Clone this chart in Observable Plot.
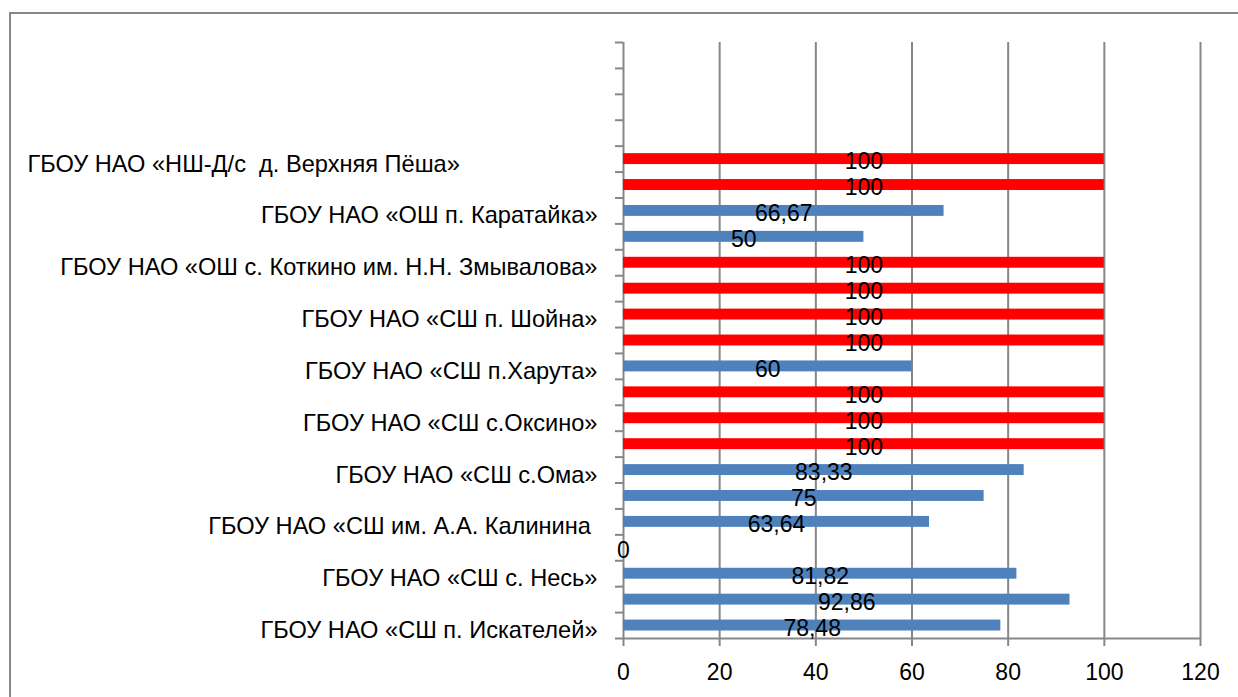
<!DOCTYPE html>
<html>
<head>
<meta charset="utf-8">
<script src="https://cdn.jsdelivr.net/npm/d3@7"></script>
<script src="https://cdn.jsdelivr.net/npm/@observablehq/plot@0.6"></script>
<style>
  html, body { margin: 0; padding: 0; background: #fff; }
  #wrap { position: relative; width: 1238px; height: 697px; overflow: hidden; background: #fff; }
  #frame { position: absolute; left: 9px; top: 12px; width: 1300px; height: 800px; border: 2px solid #878787; box-sizing: border-box; }
  #chart { position: absolute; left: 0; top: 0; }
  #chart svg text { white-space: pre; }
</style>
</head>
<body>
<div id="wrap">
  <div id="frame"></div>
  <div id="chart"></div>
</div>
<script>
// Category labels (shown on every other row, bottom to top)
const schools = [
  "ГБОУ НАО «СШ п. Искателей»",
  "ГБОУ НАО «СШ с. Несь»",
  "ГБОУ НАО «СШ им. А.А. Калинина ",
  "ГБОУ НАО «СШ с.Ома»",
  "ГБОУ НАО «СШ с.Оксино»",
  "ГБОУ НАО «СШ п.Харута»",
  "ГБОУ НАО «СШ п. Шойна»",
  "ГБОУ НАО «ОШ с. Коткино им. Н.Н. Змывалова»",
  "ГБОУ НАО «ОШ п. Каратайка»",
  "ГБОУ НАО «НШ-Д/с  д. Верхняя Пёша»                     ",
  "",
  ""
];
// Bar values, bottom row first (23 category rows, last 4 empty)
const values = [78.48, 92.86, 81.82, 0, 63.64, 75, 83.33, 100, 100, 100, 60, 100, 100, 100, 100, 50, 66.67, 100, 100, null, null, null, null];
const xTicks = [0, 20, 40, 60, 80, 100, 120];

const rowCount = values.length;
const bars = values.map((v, i) => ({row: i, value: v})).filter(d => d.value != null);
const labels = schools.map((s, k) => ({row: 2 * k, text: s}));
const fmt = v => String(v).replace(".", ",");
const gray = "#878787";
const font = "'Liberation Sans', Arial, sans-serif";

const chart = Plot.plot({
  width: 1238,
  height: 697,
  marginLeft: 623,
  marginRight: 38,
  marginTop: 42,
  marginBottom: 59,
  style: {fontFamily: font, fontSize: "23px", color: "#000", background: "transparent"},
  x: {domain: [0, 120]},
  y: {domain: [0, rowCount]},
  marks: [
    Plot.ruleX(xTicks, {y1: 0, y2: rowCount, stroke: gray, strokeWidth: 2}),
    Plot.axisX(xTicks, {tickSize: 8, tickPadding: 17, stroke: gray, strokeWidth: 2, fill: "#000", fontSize: 23, label: null}),
    Plot.axisY(d3.range(rowCount + 1), {tickSize: 8, tickFormat: () => "", stroke: gray, strokeWidth: 2, label: null}),
    Plot.ruleY([0], {x1: 0, x2: 120, stroke: gray, strokeWidth: 2}),
    Plot.rectX(bars, {
      x1: 0, x2: "value", y: "row", interval: 1,
      insetTop: 7.5, insetBottom: 7.5,
      fill: d => d.value === 100 ? "#ff0000" : "#4f81bd"
    }),
    Plot.text(bars, {
      x: d => d.value / 2, y: d => d.row + 0.5,
      text: d => fmt(d.value), fontSize: 23, fill: "#000", dy: 3
    }),
    Plot.text(labels, {
      x: 0, y: d => d.row + 0.5, text: "text",
      textAnchor: "end", dx: -26, dy: 5, fontSize: 23.6, fill: "#000"
    })
  ]
});
document.getElementById("chart").appendChild(chart);
</script>
</body>
</html>
